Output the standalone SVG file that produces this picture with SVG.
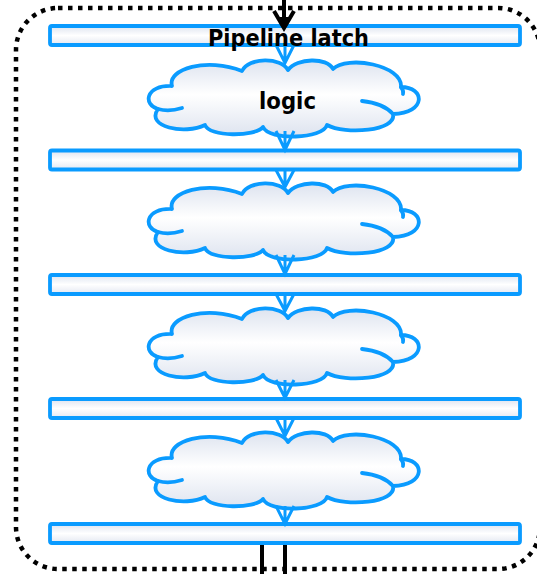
<svg xmlns="http://www.w3.org/2000/svg" xmlns:xlink="http://www.w3.org/1999/xlink" width="537" height="574" viewBox="0 0 537 574">
  <style>
    .frame { fill: none; stroke: #000; stroke-width: 4.5; stroke-dasharray: 4.5 5.5; }
    .latch { fill: url(#latchFill); stroke: #0a9bff; stroke-width: 3.8; }
    .cloud { fill: url(#cloudFill); stroke: #0a9bff; stroke-width: 3.8; stroke-linejoin: round; }
    .inner { fill: none; stroke: #0a9bff; stroke-width: 3.8; stroke-linecap: round; }
    .flow { fill: none; stroke: #0a9bff; stroke-width: 3; stroke-linejoin: miter; }
    .wire { fill: none; stroke: #000; stroke-width: 4; }
    .label { font-family: "DejaVu Sans", Verdana, sans-serif; font-weight: bold; font-size: 23.5px; fill: #000; text-anchor: middle; }
  </style>
  <defs>
    <linearGradient id="latchFill" x1="0" y1="0" x2="0" y2="1">
      <stop offset="0" stop-color="#dde3ef"/>
      <stop offset="0.5" stop-color="#ffffff"/>
      <stop offset="1" stop-color="#e3e7f1"/>
    </linearGradient>
    <linearGradient id="cloudFill" x1="0" y1="0" x2="0" y2="1">
      <stop offset="0" stop-color="#dde3ef"/>
      <stop offset="0.45" stop-color="#ffffff"/>
      <stop offset="1" stop-color="#dde3ef"/>
    </linearGradient>
    <!-- cloud outline centred on (0,0), plus its interior arcs -->
    <g id="cloudShape">
      <path class="cloud" d="M -127,10 C -142,6 -140,-14 -113,-13 C -118,-30 -78,-42 -43,-28 C -36,-42 -4,-42 3,-29 C 12,-41 42,-42 48,-30 C 62,-44 118,-34 116,-12 C 140,-12 142,14 108,15 C 112,32 60,36 42,26 C 38,40 -16,42 -22,28 C -30,38 -76,38 -80,26 C -100,36 -140,28 -127,10 Z"/>
      <path class="inner" d="M -127,10 Q -116,13 -103,9"/>
      <path class="inner" d="M 77,2 Q 98,4 108,15"/>
      <path class="inner" d="M 116,-12 Q 119,-8 118,-5"/>
    </g>
  </defs>

  <!-- dotted enclosure -->
  <rect class="frame" x="16" y="8" width="524" height="561" rx="42" ry="42"/>

  <!-- pipeline latches -->
  <g id="latch1"><rect class="latch" x="50" y="26" width="470" height="19" rx="2"/></g>
  <g id="latch2"><rect class="latch" x="50" y="150.5" width="470" height="19" rx="2"/></g>
  <g id="latch3"><rect class="latch" x="50" y="275" width="470" height="19" rx="2"/></g>
  <g id="latch4"><rect class="latch" x="50" y="399" width="470" height="19" rx="2"/></g>
  <g id="latch5"><rect class="latch" x="50" y="524" width="470" height="19" rx="2"/></g>

  <!-- logic clouds -->
  <g id="logic1"><use xlink:href="#cloudShape" transform="translate(285,99)"/></g>
  <g id="logic2"><use xlink:href="#cloudShape" transform="translate(285,222)"/></g>
  <g id="logic3"><use xlink:href="#cloudShape" transform="translate(285,347)"/></g>
  <g id="logic4"><use xlink:href="#cloudShape" transform="translate(285,471)"/></g>

  <!-- connectors -->
  <g id="connectors">
    <!-- input from above -->
    <path class="wire" d="M 284,0 V 26"/>
    <path class="wire" d="M 274,11 L 284,28 L 294,11" stroke-miterlimit="10"/>
    <path d="M 279,17 L 289,17 L 284,27 Z" fill="#000"/>
    <!-- stage-to-stage flow arrows -->
    <path class="flow" d="M 285,45 V 62 M 276,45 L 285,63 L 294,45"/>
    <path class="flow" d="M 285,131 V 149 M 276,131 L 285,150 L 294,131"/>
    <path class="flow" d="M 285,170 V 186 M 276,170 L 285,187 L 294,170"/>
    <path class="flow" d="M 285,255 V 273 M 276,255 L 285,274 L 294,255"/>
    <path class="flow" d="M 285,294 V 310 M 276,294 L 285,311 L 294,294"/>
    <path class="flow" d="M 285,380 V 397 M 276,380 L 285,398 L 294,380"/>
    <path class="flow" d="M 285,418 V 435 M 276,418 L 285,436 L 294,418"/>
    <path class="flow" d="M 285,506 V 523 M 276,506 L 285,524 L 294,506"/>
    <!-- outputs below -->
    <path class="wire" d="M 262,545 V 574 M 285,545 V 574"/>
  </g>

  <!-- labels -->
  <text class="label" x="288.5" y="46" textLength="161" lengthAdjust="spacingAndGlyphs">Pipeline latch</text>
  <text class="label" x="287.5" y="109" textLength="57" lengthAdjust="spacingAndGlyphs">logic</text>
</svg>
